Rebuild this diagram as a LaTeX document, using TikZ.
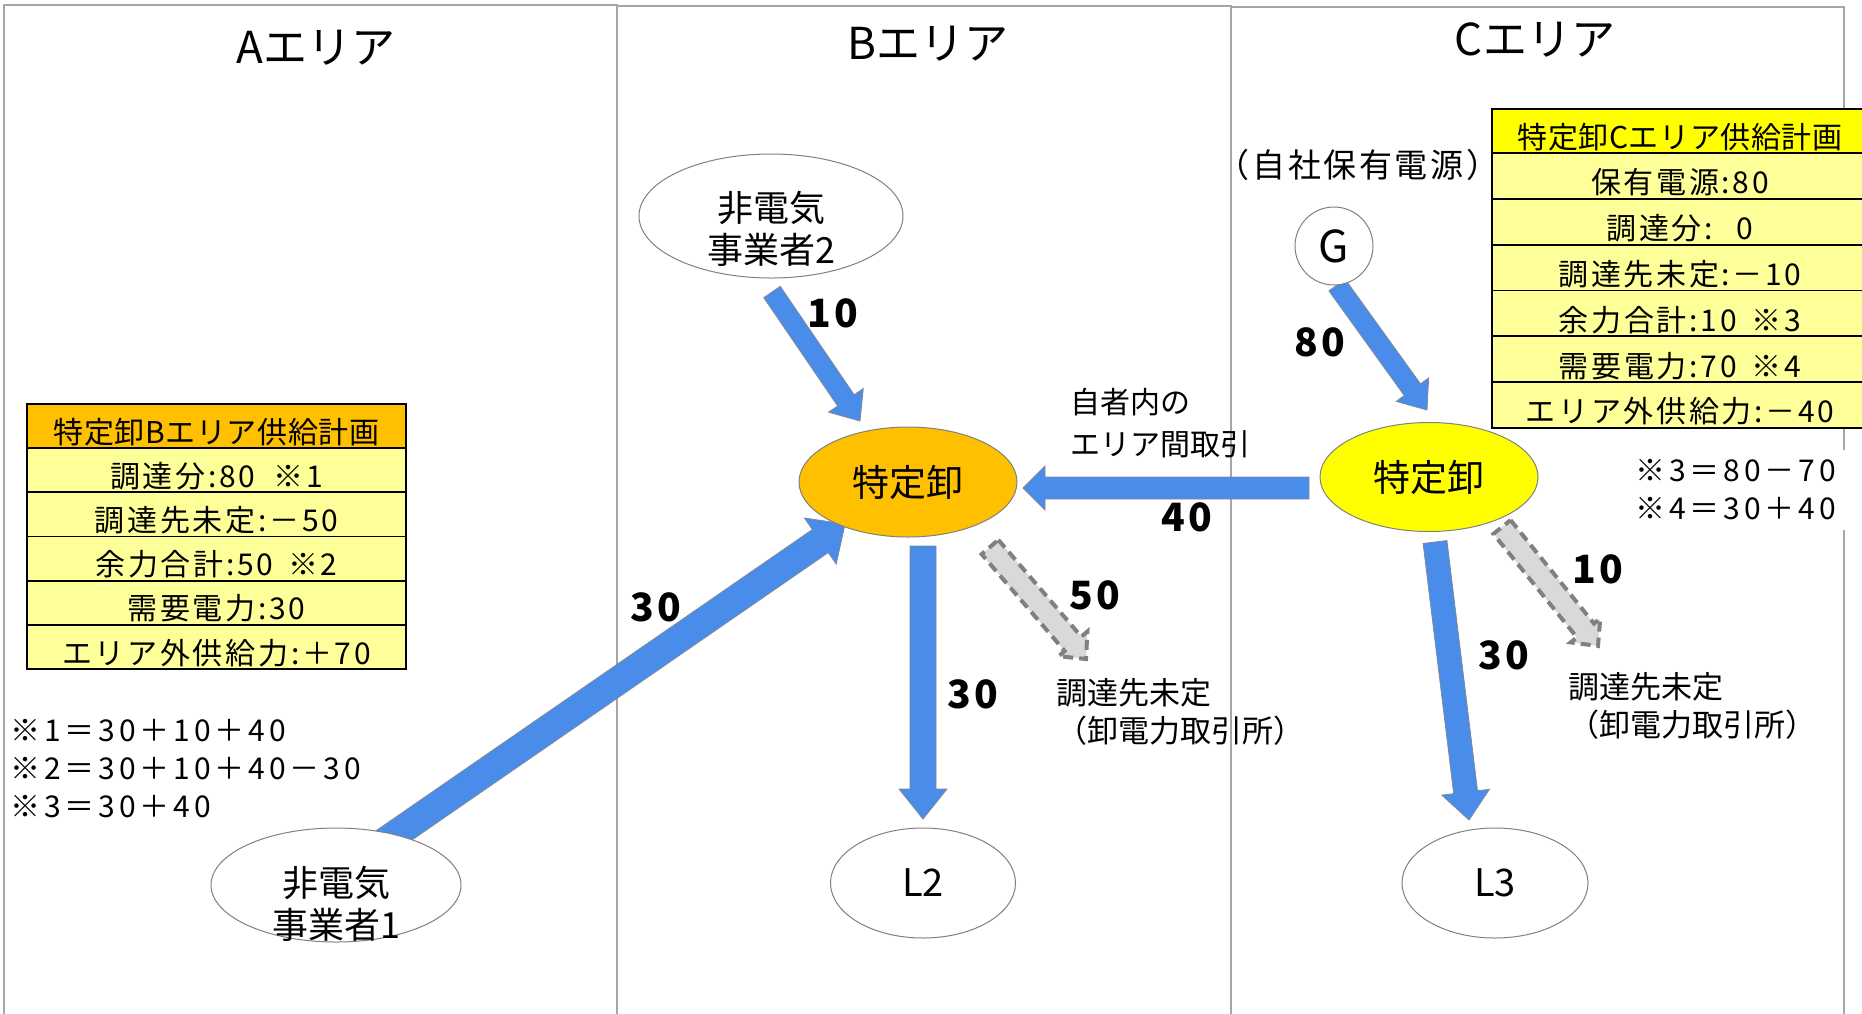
\documentclass[tikz,border=0pt]{standalone}
\usepackage{fontspec}
\setmainfont{Noto Sans CJK JP}
\usetikzlibrary{calc,shapes.geometric}
\definecolor{arrblue}{HTML}{4A8CEA}
\definecolor{arredge}{HTML}{7F8A99}
\definecolor{orangeB}{HTML}{FFC000}
\definecolor{yellowC}{HTML}{FFFF00}
\definecolor{paleY}{HTML}{FFFF99}
\definecolor{frameG}{HTML}{A6A6A6}
\definecolor{dashG}{HTML}{808080}
\definecolor{fillG}{HTML}{D9D9D9}
\pgfdeclarelayer{frames}
\pgfdeclarelayer{arrows}
\pgfsetlayers{frames,arrows,main}
\newcommand{\blockarrow}[6]{% style, tail, tip, half shaft, half head, head length
  \coordinate (bah) at ($(#3)!#6!(#2)$);
  \draw[#1] ($(#2)!#4!90:(#3)$) -- ($(bah)!#4!90:(#3)$) -- ($(bah)!#5!90:(#3)$) -- (#3)
    -- ($(bah)!#5!-90:(#3)$) -- ($(bah)!#4!-90:(#3)$) -- ($(#2)!#4!-90:(#3)$) -- cycle;
}
\begin{document}
\begin{tikzpicture}[x=1pt,y=-1pt,
  frame/.style={draw=frameG,line width=1.6pt},
  title/.style={font=\fontsize{44}{50}\selectfont},
  trow/.style={draw=black,line width=1.8pt,inner xsep=0pt,inner ysep=0pt,outer sep=0pt,
    text height=#1, text depth=5pt, font=\fontsize{30}{34}\selectfont},
  browB/.style={trow=39.2pt,minimum width=379pt,minimum height=44.2pt,fill=paleY,
    font=\fontsize{30}{34}\selectfont\addfontfeatures{LetterSpace=9}},
  browC/.style={trow=40.8pt,minimum width=376pt,minimum height=45.8pt,fill=paleY,
    font=\fontsize{30}{34}\selectfont\addfontfeatures{LetterSpace=9}},
  hdr/.style={trow=39pt,minimum height=44pt,font=\fontsize{30}{34}\selectfont\addfontfeatures{LetterSpace=2}},
  ell/.style={ellipse,draw=dashG,line width=1pt,fill=white,inner sep=0pt},
  etext/.style={align=center,font=\fontsize{36}{42}\selectfont},
  num/.style={font=\fontsize{39}{42}\selectfont\bfseries\addfontfeatures{LetterSpace=7}},
  lbl/.style={align=left,inner sep=0pt,font=\fontsize{31}{38}\selectfont},
  note/.style={align=left,inner sep=0pt,font=\fontsize{30}{38}\selectfont\addfontfeatures{LetterSpace=13}},
  bluearr/.style={fill=arrblue,draw=arredge,line width=0.8pt,line join=miter},
  grayarr/.style={fill=fillG,draw=dashG,line width=4pt,dash pattern=on 10pt off 6pt,line join=miter}
]
\useasboundingbox (0,0) rectangle (1862,1013);
\begin{pgfonlayer}{frames}
  \draw[frame] (4,5) rectangle (617,1040);
  \draw[frame] (617,6) rectangle (1231,1040);
  \draw[frame] (1231,7) rectangle (1844,1040);
\end{pgfonlayer}

% area titles
\node[title] (tA) at (316,48) {Aエリア};
\node[title] (tB) at (928,44) {Bエリア};
\node[title] (tC) at (1535,40) {Cエリア};

% table B
\node[hdr,minimum width=379pt,fill=orangeB,anchor=north] (bh) at (216.5,404) {特定卸Bエリア供給計画};
\node[browB,anchor=north] (b1) at (bh.south) {調達分:80\hspace{0.6em}※1};
\node[browB,anchor=north] (b2) at (b1.south) {調達先未定:－50};
\node[browB,anchor=north] (b3) at (b2.south) {余力合計:50\hspace{0.5em}※2};
\node[browB,anchor=north] (b4) at (b3.south) {需要電力:30};
\node[browB,anchor=north] (b5) at (b4.south) {エリア外供給力:＋70};

% table C
\node[hdr,minimum width=376pt,fill=yellowC,anchor=north] (ch) at (1680,109) {特定卸Cエリア供給計画};
\node[browC,anchor=north] (c1) at (ch.south) {保有電源:80};
\node[browC,anchor=north] (c2) at (c1.south) {調達分:\hspace{0.8em}0};
\node[browC,anchor=north] (c3) at (c2.south) {調達先未定:－10};
\node[browC,anchor=north] (c4) at (c3.south) {余力合計:10\hspace{0.5em}※3};
\node[browC,anchor=north] (c5) at (c4.south) {需要電力:70\hspace{0.5em}※4};
\node[browC,anchor=north] (c6) at (c5.south) {エリア外供給力:－40};

% notes
\node[note,anchor=west] (noteA) at (10,769) {※1＝30＋10＋40\\※2＝30＋10＋40－30\\※3＝30＋40};
\node[note,anchor=west,fill=white,inner xsep=10pt,inner ysep=10pt] (noteC) at (1625,490) {※3＝80－70\\※4＝30＋40};

% ellipses
\node[ell,minimum width=264pt,minimum height=124pt] (ne2) at (771,216) {};
\node[etext] (ne2t) at (771,229) {非電気\\事業者2};
\node[ell,minimum width=250pt,minimum height=114pt] (ne1) at (336,885) {};
\node[etext] (ne1t) at (336,904) {非電気\\事業者1};
\node[ell,fill=orangeB,minimum width=218pt,minimum height=110pt,font=\fontsize{37}{40}\selectfont] (tkB) at (908,482) {特定卸};
\node[ell,fill=yellowC,minimum width=218pt,minimum height=109pt,font=\fontsize{37}{40}\selectfont] (tkC) at (1429,477) {特定卸};
\node[ell,circle,minimum size=78pt,font=\fontsize{44}{48}\selectfont] (G) at (1334,246) {G};
\node[ell,minimum width=185pt,minimum height=110pt,font=\fontsize{38}{40}\selectfont] (L2) at (923,883) {L2};
\node[ell,minimum width=186pt,minimum height=110pt,font=\fontsize{38}{40}\selectfont] (L3) at (1495,883) {L3};

% labels
\node[lbl,font=\fontsize{33}{38}\selectfont\addfontfeatures{LetterSpace=8}] (own) at (1358,165) {（自社保有電源）};
\node[lbl,anchor=west,font=\fontsize{30}{42}\selectfont] (inter) at (1070,423) {自者内の\\エリア間取引};
\node[lbl,anchor=north west] (undB) at (1056,678) {調達先未定\\（卸電力取引所）};
\node[lbl,anchor=north west] (undC) at (1568,672) {調達先未定\\（卸電力取引所）};

\node[num] (n10a) at (833,313) {10};
\node[num] (n30a) at (656,607) {30};
\node[num] (n40) at (1187,517) {40};
\node[num] (n30b) at (973,694) {30};
\node[num] (n50) at (1095,595) {50};
\node[num] (n80) at (1320,342) {80};
\node[num] (n10c) at (1598,569) {10};
\node[num] (n30c) at (1504,655) {30};

% arrow end points
\coordinate (a10t) at (772,292);  \coordinate (a10h) at (860,421);
\coordinate (a30t) at (380,845);  \coordinate (a30h) at (845,524);
\coordinate (a40t) at (1309,488); \coordinate (a40h) at (1023,488);
\coordinate (aL2t) at (923,546);  \coordinate (aL2h) at (923,819);
\coordinate (a80t) at (1337,285); \coordinate (a80h) at (1427,410);
\coordinate (aL3t) at (1435,542); \coordinate (aL3h) at (1469,820);
\coordinate (g50t) at (990,547);  \coordinate (g50h) at (1086,659);
\coordinate (g10t) at (1502,527); \coordinate (g10h) at (1598,646);

\begin{pgfonlayer}{arrows}
  \blockarrow{bluearr}{a10t}{a10h}{10pt}{21pt}{25pt}
  \blockarrow{bluearr}{a30t}{a30h}{14pt}{28pt}{30pt}
  \blockarrow{bluearr}{a40t}{a40h}{11pt}{22pt}{22pt}
  \blockarrow{bluearr}{aL2t}{aL2h}{13pt}{24pt}{30pt}
  \blockarrow{bluearr}{a80t}{a80h}{10pt}{20pt}{25pt}
  \blockarrow{bluearr}{aL3t}{aL3h}{12pt}{24pt}{28pt}
  \blockarrow{grayarr}{g50t}{g50h}{11pt}{19pt}{20pt}
  \blockarrow{grayarr}{g10t}{g10h}{11pt}{19pt}{20pt}
\end{pgfonlayer}
\end{tikzpicture}
\end{document}
